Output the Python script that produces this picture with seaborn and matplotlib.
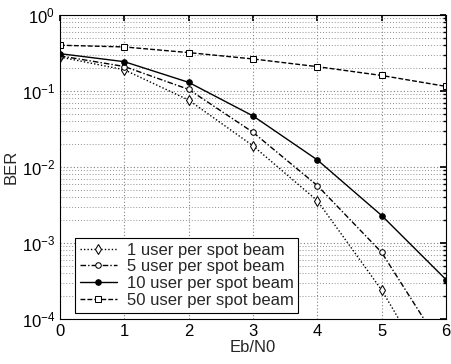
import numpy as np
import pandas as pd
import matplotlib
matplotlib.use("Agg")
import matplotlib.pyplot as plt
import seaborn as sns

ebn0 = [0, 1, 2, 3, 4, 5, 6]
series_names = ["1 user per spot beam", "5 user per spot beam",
                "10 user per spot beam", "50 user per spot beam"]
ber_1 = [0.28, 0.19, 0.076, 0.019, 0.0036, 2.4e-4, 9e-6]
ber_5 = [0.29, 0.21, 0.105, 0.0286, 0.0057, 7.5e-4, 3.5e-5]
ber_10 = [0.31, 0.243, 0.13, 0.047, 0.0124, 0.0023, 3.3e-4]
ber_50 = [0.40, 0.38, 0.32, 0.264, 0.209, 0.16, 0.115]

rows = []
for name, vals in zip(series_names, [ber_1, ber_5, ber_10, ber_50]):
    for x, y in zip(ebn0, vals):
        rows.append({"Eb/N0": x, "BER": y, "series": name})
df = pd.DataFrame(rows)

sns.set_theme(style="white")
plt.rcParams['font.family'] = ['Liberation Sans', 'DejaVu Sans']

fig = plt.figure(figsize=(4.51, 3.64), dpi=100)
ax = fig.add_axes([60/451, 1-319/364, 386/451, 304/364])

dashes = {series_names[0]: (1, 1.5), series_names[1]: (4, 1.5, 1, 1.5),
          series_names[2]: "", series_names[3]: (3.5, 1.5)}
markers = {series_names[0]: "d", series_names[1]: "o",
           series_names[2]: "o", series_names[3]: "s"}
palette = {n: "black" for n in series_names}

sns.lineplot(data=df, x="Eb/N0", y="BER", hue="series", style="series",
             palette=palette, dashes=dashes, markers=markers, ax=ax,
             linewidth=1.0, markersize=5, legend=False)

for i, line in enumerate(ax.lines[:4]):
    line.set_label(series_names[i])
    line.set_markeredgecolor("black")
    if i == 2:
        line.set_markerfacecolor("black")
        line.set_markersize(4)
    else:
        line.set_markerfacecolor("white")
        if i == 1:
            line.set_markersize(4)

ax.set_yscale("log")
ax.set_xlim(0, 6)
ax.set_ylim(1e-4, 1)
ax.set_xticks(ebn0)
ax.grid(True, which="major", linestyle=(0, (1, 2)), color="#808080", linewidth=0.8)
ax.grid(True, which="minor", axis="y", linestyle=(0, (1, 2)), color="#909090", linewidth=0.7)
for s in ax.spines.values():
    s.set_color("black")
    s.set_linewidth(0.8)
ax.tick_params(which="both", direction="in", top=True, right=True, labelsize=12,
               colors="black")
ax.tick_params(which="major", length=4)
ax.tick_params(which="minor", length=2)
ax.set_xlabel("Eb/N0", fontsize=12, labelpad=1)
ax.set_ylabel("BER", fontsize=12, labelpad=2)

leg = ax.legend(ax.lines[:4], series_names, loc="lower left", bbox_to_anchor=(0.03, 0.01),
                fontsize=12, frameon=True, fancybox=False, edgecolor="black",
                framealpha=1, borderpad=0.3, labelspacing=0.1, handlelength=2.2,
                handletextpad=0.6, borderaxespad=0.2)
leg.get_frame().set_linewidth(0.8)

fig.savefig("out.png", dpi=100)
